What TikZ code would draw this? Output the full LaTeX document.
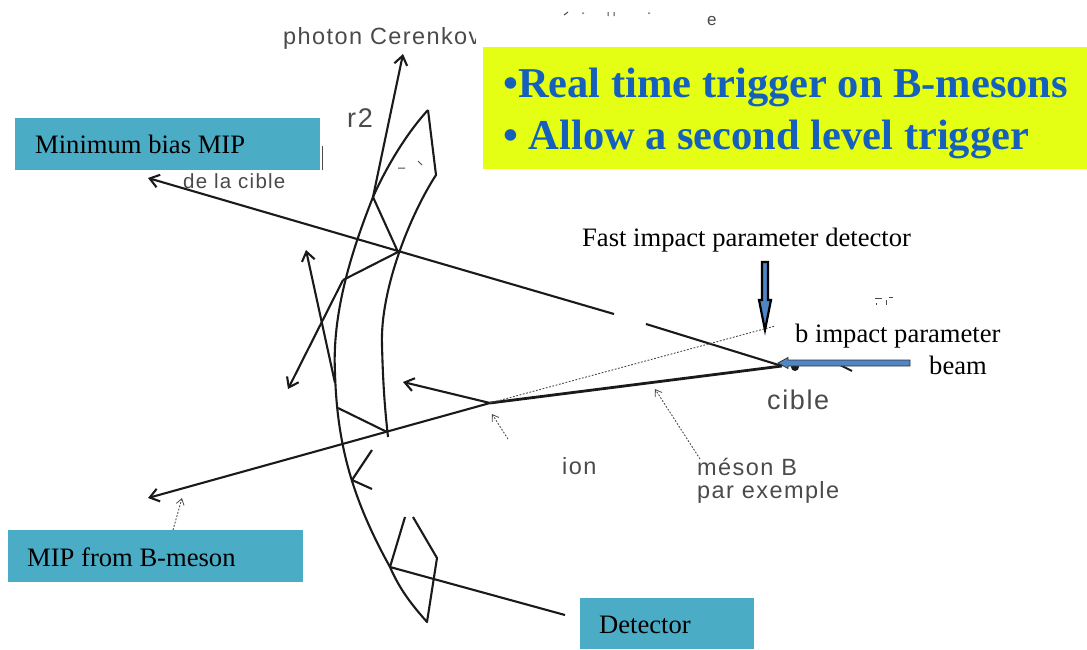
\documentclass[tikz,border=0pt]{standalone}
\usepackage{fontspec}
\setmainfont{Liberation Serif}
\newfontfamily\sketchfont[LetterSpace=6]{Liberation Sans}
\usetikzlibrary{arrows.meta}
\definecolor{teal1}{HTML}{4BACC6}
\definecolor{yel1}{HTML}{E5FF14}
\definecolor{blue1}{HTML}{1560BD}
\definecolor{arr1}{HTML}{4F86C6}
\definecolor{ink1}{HTML}{1A1A1A}
\definecolor{gray1}{HTML}{4A4A4A}
\tikzset{
  ink/.style={draw=ink1,line width=2.1pt,line join=round},
  tip/.style={ink,-{Straight Barb[length=9pt,width=13pt,line width=2.1pt]}},
  thin dots/.style={draw=gray1,line width=0.9pt,dash pattern=on 1.8pt off 1.6pt},
  dots tip/.style={thin dots,-{Straight Barb[length=6pt,width=8pt,line width=0.8pt]}},
  tealbox/.style={fill=teal1,draw=none},
  lab/.style={inner sep=0pt,anchor=base west,font=\fontsize{26.6}{30}\selectfont,text=black},
  sk/.style={inner sep=0pt,anchor=base west,font=\fontsize{23.5}{27}\sketchfont,text=gray1},
  head/.style={inner sep=0pt,anchor=base west,font=\fontsize{42.5}{48}\selectfont\bfseries,text=blue1},
  mark1/.style={draw=gray1,line width=1pt},
}
\begin{document}
\begin{tikzpicture}[x=1pt,y=-1pt]
\useasboundingbox (0,0) rectangle (1087,649);
% named points
\coordinate (mipTip) at (148,178);
\coordinate (target) at (782,366);
\coordinate (gapA) at (614,314);
\coordinate (gapB) at (646,324);
\coordinate (vtx) at (490,403);
\coordinate (cross) at (387,432);
\coordinate (bTip) at (148,498);
\coordinate (ionTip) at (403,382);
\coordinate (impact) at (775,326);
\coordinate (pA) at (373,197);
\coordinate (pB) at (398,252);
\coordinate (pC) at (343,280);
\coordinate (pD) at (322,322);
\coordinate (phTip) at (403,54);
\coordinate (lTip) at (288,389);
\coordinate (uTip) at (306,250);
\coordinate (uEnd) at (335,383);
\coordinate (qA) at (338,408);
\coordinate (qB) at (352,480);
\coordinate (qC) at (372,450);
\coordinate (qD) at (372,489);
\coordinate (rA) at (390,567);
\coordinate (rB) at (405,517);
\coordinate (rC) at (413,517);
\coordinate (rD) at (437,558);
\coordinate (rE) at (427,622);
\coordinate (topA) at (428,110);
\coordinate (topB) at (436,175);
\coordinate (detEnd) at (565,615);
% mirrors
\draw[ink] (topA) .. controls (405,135) and (385,170) .. (pA)
  .. controls (350,255) and (332,315) .. (335,373)
  .. controls (337,440) and (350,495) .. (rA)
  .. controls (400,590) and (412,605) .. (rE) -- (rD) -- (rC);
\draw[ink] (rA) -- (rB);
\draw[ink] (topA) -- (topB) .. controls (410,215) and (380,290) .. (382,345) .. controls (383,385) and (385,410) .. (388,437);
% tracks
\draw[tip] (gapA) -- (mipTip);
\draw[ink] (target) -- (gapB);
\draw[ink,line width=2.8pt] (target) -- (vtx);
\draw[tip] (vtx) -- (bTip);
\draw[tip] (vtx) -- (ionTip);
\draw[thin dots] (vtx) -- (impact);
% photons
\draw[tip] (pA) -- (phTip);
\draw[ink] (pA) -- (pB) -- (pC);
\draw[tip] (pC) -- (lTip);
\draw[tip] (uEnd) -- (uTip);
\draw[ink] (qA) -- (cross);
\draw[ink] (qC) -- (qB) -- (qD);
\draw[ink] (rA) -- (detEnd);
% thin leaders
\draw[dots tip] (700,459) -- (655,389);
\draw[dots tip] (508,439) -- (492,414);
\draw[dots tip] (173,530) -- (182,498);
% beam
\coordinate (beamS) at (910,363);
\coordinate (beamE) at (778,363);
\fill[ink1] (795,367) circle (4pt);
\draw[ink1,line width=2pt] (852,371) -- (842,366) -- (852,362);
% boxes
\fill[yel1] (483,47) rectangle (1087,169);
\node[head] (h1) at (503,97) {•Real time trigger on B-mesons};
\node[head] (h2) at (503,149) {• Allow a second level trigger};
\node[tealbox,minimum width=305pt,minimum height=52pt,inner sep=0pt] (bias) at (167.5,144) {};
\node[lab] (biasT) at (35,153) {Minimum bias MIP};
\node[tealbox,minimum width=295pt,minimum height=52pt,inner sep=0pt] (mipB) at (155.5,556) {};
\node[lab] (mipT) at (27,566) {MIP from B-meson};
\node[tealbox,minimum width=174pt,minimum height=51pt,inner sep=0pt] (detB) at (667,623.5) {};
\node[lab] (detT) at (599,633) {Detector};
% printed labels
\node[lab] (fast) at (582,246) {Fast impact parameter detector};
\node[lab] (bimp) at (795,342) {b impact parameter};
\node[lab] (beamL) at (929,374) {beam};
% sketch labels
\begin{scope}
\clip (270,15) rectangle (475,60);
\node[sk] (ph) at (283,44) {photon Cerenkov};
\end{scope}
\node[sk,font=\fontsize{20.5}{24}\sketchfont] (dlc) at (183,188) {de la cible};
\node[sk,font=\fontsize{27}{30}\sketchfont] (r2) at (347,127) {r2};
\node[sk,font=\fontsize{27}{30}\sketchfont] (cib) at (767,409) {cible};
\node[sk] (ion) at (562,474) {ion};
\node[sk] (mes) at (697,475) {méson B};
\node[sk] (par) at (697,498) {par exemple};
\node[sk,font=\fontsize{17}{20}\sketchfont] (e) at (707,25) {e};
% arrows
\draw[black!80,line width=0.8pt,fill=arr1,line join=miter]
  (beamS) ++(0,-3) -- (788,360) -- (788,357.5) -- (778,363) -- (788,368.5) -- (788,366) -- (910,366) -- cycle;
\draw[black,line width=2.2pt,fill=arr1,line join=miter]
  (762,262) -- (768,262) -- (768,300) -- (771,300) -- (765,330) -- (759,300) -- (762,300) -- cycle;
% clipped fragments
\draw[mark1] (322,146) -- (322,170);
\draw[mark1] (398,168) -- (405,168) (418,161) -- (422,165);
\draw[mark1] (875,298) -- (882,298) (889,297) -- (893,297) (876,303) -- (876,305) (886,300) -- (886,305);
\draw[mark1] (564,15) -- (568,12) (582,13) -- (584,13) (608,12) -- (608,16) (614,12) -- (614,16) (648,13) -- (650,13);
\end{tikzpicture}
\end{document}
